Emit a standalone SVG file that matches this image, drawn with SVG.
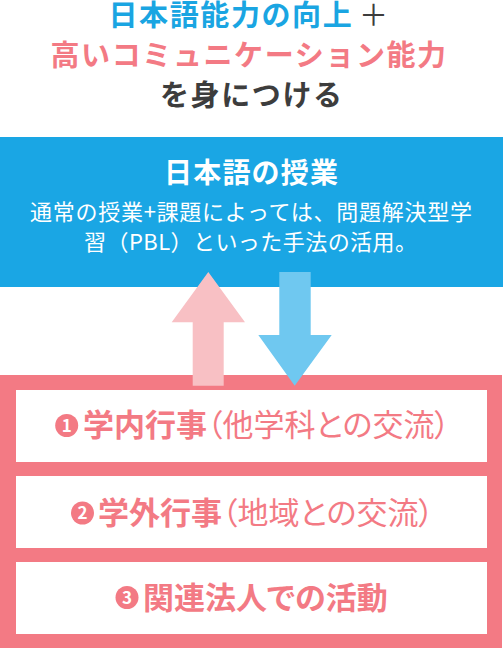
<svg xmlns="http://www.w3.org/2000/svg" width="504" height="649" viewBox="0 0 504 649">
<style>
text{font-family:"Noto Sans CJK JP","Noto Sans",sans-serif}
.h{font-size:29px;font-weight:700;letter-spacing:1.6px}
.it{font-size:31px;fill:#F37A84;font-feature-settings:"palt"}
.b{font-weight:700}
.num{font-size:17px;font-weight:700;fill:#fff;text-anchor:middle}
.circ{fill:#F37A84}
.box{fill:#fff}
</style>
<rect width="504" height="649" fill="#fff"/>
<g id="heading">
<text class="h" x="108.5" y="26" fill="#1AA5E2">日本語能力の向上</text>
<text x="359" y="26" font-size="29" fill="#3D3D3D">＋</text>
<text class="h" x="50.5" y="66" fill="#F37A84">高いコミュニケーション能力</text>
<text class="h" x="160" y="106" fill="#3D3D3D">を身につける</text>
</g>
<g id="lessons">
<rect x="0" y="137" width="503" height="150" fill="#1AA6E4"/>
<text x="164" y="183" font-size="28" font-weight="700" fill="#fff" letter-spacing="1.2">日本語の授業</text>
<text x="30" y="220" font-size="22" fill="#fff" textLength="442" lengthAdjust="spacing">通常の授業+課題によっては、問題解決型学</text>
<text x="84" y="250" font-size="22" fill="#fff" textLength="333" lengthAdjust="spacing">習（PBL）といった手法の活用。</text>
</g>
<g id="activities">
<rect x="0" y="375" width="502" height="273" fill="#F37A84"/>
<g id="item1">
<rect class="box" x="16" y="390" width="471" height="72"/>
<circle class="circ" cx="66.7" cy="425.5" r="11.5"/>
<text class="num" x="66.7" y="431.5">1</text>
<text class="it" x="83" y="436"><tspan class="b">学内行事</tspan><tspan>（他学科との交流）</tspan></text>
</g>
<g id="item2">
<rect class="box" x="16" y="476" width="471" height="72"/>
<circle class="circ" cx="82.5" cy="513" r="11.5"/>
<text class="num" x="82.5" y="519">2</text>
<text class="it" x="98" y="524"><tspan class="b">学外行事</tspan><tspan>（地域との交流）</tspan></text>
</g>
<g id="item3">
<rect class="box" x="16" y="562" width="471" height="72"/>
<circle class="circ" cx="127" cy="597.5" r="11.5"/>
<text class="num" x="127" y="603.5">3</text>
<text class="it b" x="143" y="609">関連法人での活動</text>
</g>
</g>
<g id="connectors">
<polygon points="208.3,272 245,322.3 223.7,322.3 223.7,385.7 192.7,385.7 192.7,322.3 171.7,322.3" fill="#F8C0C4"/>
<polygon points="279.3,272 310.7,272 310.7,335 331.7,335 294.7,385.7 258.3,335 279.3,335" fill="#6FC8F0"/>
</g>
</svg>
